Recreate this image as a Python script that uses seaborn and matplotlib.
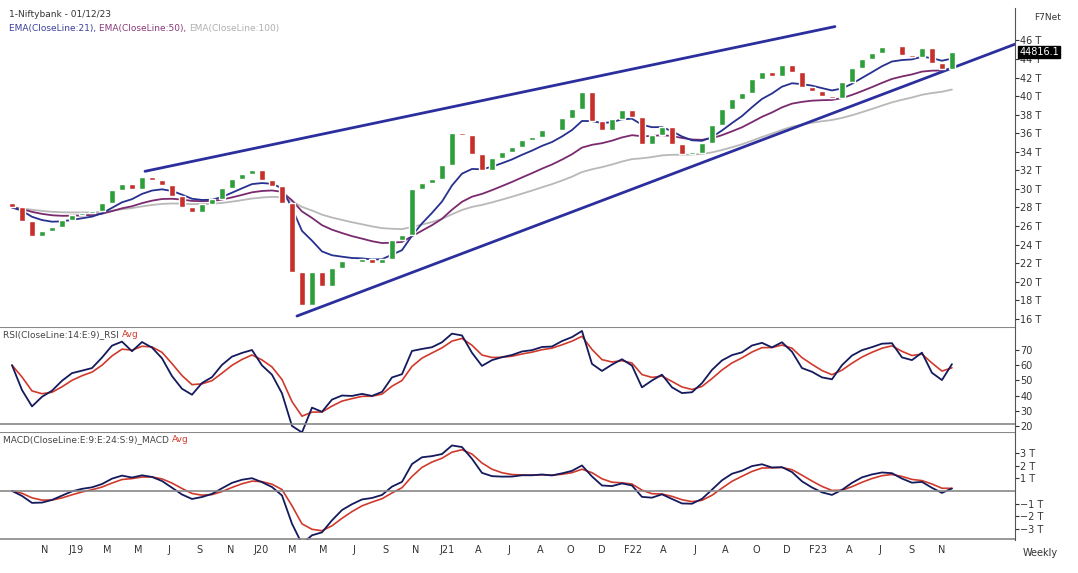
import numpy as np
import pandas as pd
import matplotlib
matplotlib.use("Agg")
import matplotlib.pyplot as plt
import seaborn as sns

# ---- data (closes sampled every ~2.8 weeks, in thousands) ----
closes = [28.0, 26.5, 24.9, 25.5, 25.9, 26.6, 27.2, 27.4, 27.6, 28.5, 29.9, 30.5, 30.0, 31.3, 31.0,
          30.4, 29.2, 28.1, 27.5, 28.4, 28.9, 30.1, 31.1, 31.6, 32.0, 31.0, 30.3, 28.5, 21.0, 17.5,
          21.0, 19.5, 21.5, 22.2, 22.1, 22.4, 22.0, 22.5, 24.5, 25.0, 30.0, 30.6, 31.1, 32.6, 36.0,
          35.8, 33.8, 32.0, 33.3, 34.0, 34.5, 35.3, 35.6, 36.3, 36.4, 37.6, 38.6, 40.5, 37.3, 36.4,
          37.5, 38.5, 37.8, 34.8, 35.8, 36.7, 34.8, 33.8, 33.9, 35.0, 36.9, 38.6, 39.7, 40.3, 41.9,
          42.6, 42.2, 43.4, 42.6, 41.0, 40.6, 40.0, 39.8, 41.5, 43.0, 44.0, 44.6, 45.3, 45.4, 44.4,
          44.2, 45.2, 43.6, 42.9, 44.8]
first_open = 28.5
step_weeks = 2.8
last_label = "44816.1"
month_labels = ["N", "J19", "M", "M", "J", "S", "N", "J20", "M", "M", "J", "S", "N", "J21", "A",
                "J", "A", "O", "D", "F22", "A", "J", "A", "O", "D", "F23", "A", "J", "S", "N"]
month_first_step, month_last_step = 3.3, 93.0
price_ticks = list(range(16, 47, 2))
rsi_ticks = [20, 30, 40, 50, 60, 70]
macd_ticks = [-3, -2, -1, 1, 2, 3]
upper_line = ([13.3, 82.3], [31.9, 47.5])
lower_line = ([28.5, 100.3], [16.3, 45.6])

# ---- derived indicators ----
s = pd.Series(closes, dtype=float)
idx = np.arange(len(s))
def ema(series, weeks):
    return series.ewm(span=max(weeks / step_weeks, 1.01), adjust=False).mean()
ema21, ema50, ema100 = ema(s, 21), ema(s, 50), ema(s, 100)
d = s.diff().fillna(0)
n = 9.0
up = d.clip(lower=0).ewm(alpha=1 / n, adjust=False).mean()
dn = (-d.clip(upper=0)).ewm(alpha=1 / n, adjust=False).mean()
up.iloc[0], dn.iloc[0] = 0.3, 0.2
up = d.clip(lower=0).where(idx > 0, 0.3).ewm(alpha=1 / n, adjust=False).mean()
dn = (-d.clip(upper=0)).where(idx > 0, 0.2).ewm(alpha=1 / n, adjust=False).mean()
rsi = 100 - 100 / (1 + up / dn)
rsi_avg = ema(rsi, 9)
macd = ema(s, 9) - ema(s, 24)
macd_sig = ema(macd, 9)
opens = [first_open] + closes[:-1]

sns.set_style("white")
plt.rcParams['font.family'] = ['DejaVu Sans']
fig = plt.figure(figsize=(10.78, 5.73), dpi=100)
L, W = 0.0, 0.9415
axp = fig.add_axes([L, 0.429, W, 0.557])
axr = fig.add_axes([L, 0.246, W, 0.183], sharex=axp)
axm = fig.add_axes([L, 0.058, W, 0.188], sharex=axp)

green, red = "#2e9e3a", "#c62f2a"
cols = [green if c >= o else red for o, c in zip(opens, closes)]
bottoms = [min(o, c) for o, c in zip(opens, closes)]
heights = [max(abs(c - o), 0.15) for o, c in zip(opens, closes)]
axp.bar(idx, heights, bottom=bottoms, width=0.6, color=cols, zorder=3)
sns.lineplot(x=idx, y=ema100.values, ax=axp, color="#b8b8b8", lw=1.3)
sns.lineplot(x=idx, y=ema50.values, ax=axp, color="#7a2a6e", lw=1.3)
sns.lineplot(x=idx, y=ema21.values, ax=axp, color="#26308f", lw=1.3)
axp.plot(*upper_line, color="#2b2f9e", lw=2)
axp.plot(*lower_line, color="#2b2f9e", lw=2)

sns.lineplot(x=idx, y=rsi_avg.values, ax=axr, color="#d03a2c", lw=1.2)
sns.lineplot(x=idx, y=rsi.values, ax=axr, color="#141a5c", lw=1.3)
sns.lineplot(x=idx, y=macd_sig.values, ax=axm, color="#d03a2c", lw=1.2)
sns.lineplot(x=idx, y=macd.values, ax=axm, color="#141a5c", lw=1.3)

axp.set_ylim(15.1, 49.5)
axr.set_ylim(16, 85)
axm.set_ylim(-3.87, 4.66)
axp.set_xlim(-1.2, 100.3)

for ax in (axp, axr, axm):
    for sp in ("left", "top", "bottom"):
        ax.spines[sp].set_visible(False)
    ax.spines["right"].set_color("#555555")
    ax.yaxis.tick_right()
    ax.tick_params(axis="y", direction="out", length=3, labelsize=7, colors="#333333", pad=1)
    ax.set_xlabel(""); ax.set_ylabel("")
axp.set_yticks(price_ticks, [f"{t} T" for t in price_ticks])
axr.set_yticks(rsi_ticks, [str(t) for t in rsi_ticks])
axm.set_yticks(macd_ticks, [f"{t} T".replace("-", "−") for t in macd_ticks])
axr.axhline(85, color="#888888", lw=1.5)
axr.axhline(21, color="#888888", lw=1.2)
axm.axhline(4.66, color="#888888", lw=1.5)
axm.axhline(0, color="#888888", lw=1.2)
axm.axhline(-3.8, color="#888888", lw=1.2)
axp.tick_params(axis="x", bottom=False, labelbottom=False)
axr.tick_params(axis="x", bottom=False, labelbottom=False)
pos = np.linspace(month_first_step, month_last_step, len(month_labels))
axm.set_xticks(pos, month_labels)
axm.tick_params(axis="x", labelsize=7, colors="#333333", length=2, pad=2)

axp.annotate(last_label, xy=(1.0, 44.8), xycoords=("axes fraction", "data"), xytext=(3, 0),
             textcoords="offset points", va="center", ha="left", fontsize=7, color="white",
             bbox=dict(boxstyle="square,pad=0.1", fc="black", ec="black"), annotation_clip=False)

fig.text(0.008, 0.982, "1-Niftybank - 01/12/23", fontsize=6.5, color="#333333", va="top")
x0 = 0.008
for txt, c in [("EMA(CloseLine:21), ", "#3b3f9a"), ("EMA(CloseLine:50), ", "#8a3a7c"), ("EMA(CloseLine:100)", "#b0b0b0")]:
    t = fig.text(x0, 0.958, txt, fontsize=6.5, color=c, va="top")
    fig.canvas.draw()
    bb = t.get_window_extent()
    x0 += bb.width / fig.bbox.width
fig.text(0.972, 0.978, "F7Net", fontsize=6.5, color="#333333", va="top", ha="center")
fig.text(0.965, 0.035, "Weekly", fontsize=7, color="#333333", va="center", ha="center")
for ax, lab in [(axr, "RSI(CloseLine:14:E:9)_RSI "), (axm, "MACD(CloseLine:E:9:E:24:S:9)_MACD ")]:
    t = ax.text(0.003, 0.97, lab, transform=ax.transAxes, fontsize=6.5, color="#444444", va="top")
    fig.canvas.draw()
    bb = t.get_window_extent().transformed(ax.transAxes.inverted())
    ax.text(bb.x1, 0.97, "Avg", transform=ax.transAxes, fontsize=6.5, color="#d03a2c", va="top")

fig.savefig("out.png", dpi=100)
